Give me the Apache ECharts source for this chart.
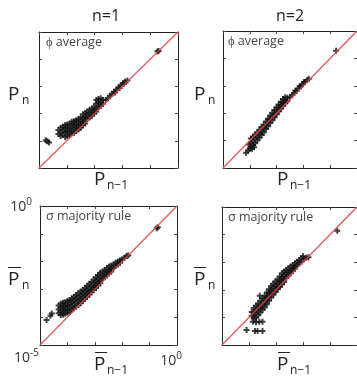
<!DOCTYPE html>
<html><head><meta charset="utf-8">
<script src="https://cdn.jsdelivr.net/npm/echarts@6/dist/echarts.min.js"></script>
<style>html,body{margin:0;padding:0;background:#fff}#c{width:357px;height:379px}</style>
</head><body><div id="c"></div>
<script>
// log10 values of P_{n-1} (x) and P_n (y)
const panelTitles = ['n=1', 'n=2'];
const panelLabels = ['ϕ average', 'ϕ average', 'σ majority rule', 'σ majority rule'];
const tickValues = [-5, -4, -3, -2, -1, 0];
const tickLabelText = { '-5': ['10', '-5'], '0': ['10', '0'] };

const phiN1 = [
 [-4.76,-3.98],[-4.64,-4.06],[-4.70,-4.02],
 [-4.30,-3.60],[-4.30,-3.75],[-4.22,-3.52],[-4.22,-3.68],[-4.22,-3.82],[-4.14,-3.48],[-4.14,-3.62],[-4.14,-3.78],
 [-4.06,-3.42],[-4.06,-3.56],[-4.06,-3.70],[-4.06,-3.86],[-3.98,-3.40],[-3.98,-3.54],[-3.98,-3.68],[-3.98,-3.82],
 [-3.90,-3.36],[-3.90,-3.50],[-3.90,-3.64],[-3.90,-3.78],[-3.82,-3.30],[-3.82,-3.44],[-3.82,-3.58],[-3.82,-3.72],
 [-3.74,-3.28],[-3.74,-3.42],[-3.74,-3.56],[-3.74,-3.70],[-3.66,-3.24],[-3.66,-3.38],[-3.66,-3.52],[-3.66,-3.64],
 [-3.58,-3.20],[-3.58,-3.34],[-3.58,-3.48],[-3.58,-3.58],[-3.50,-3.14],[-3.50,-3.28],[-3.50,-3.42],[-3.50,-3.52],
 [-3.42,-3.02],[-3.42,-3.16],[-3.42,-3.30],[-3.42,-3.42],[-3.34,-2.98],[-3.34,-3.12],[-3.34,-3.26],[-3.34,-3.36],
 [-3.26,-2.92],[-3.26,-3.06],[-3.26,-3.20],[-3.18,-2.86],[-3.18,-3.00],[-3.18,-3.14],[-3.10,-2.82],[-3.10,-2.96],[-3.10,-3.08],
 [-3.02,-2.74],[-3.02,-2.88],[-3.02,-3.00],[-2.94,-2.50],[-2.94,-2.64],[-2.94,-2.80],[-2.94,-2.92],
 [-2.86,-2.46],[-2.86,-2.60],[-2.86,-2.76],[-2.78,-2.44],[-2.78,-2.58],[-2.78,-2.72],[-2.70,-2.50],[-2.70,-2.64],
 [-2.60,-2.50],[-2.52,-2.44],[-2.44,-2.34],[-2.38,-2.28],[-2.30,-2.20],[-2.22,-2.12],[-2.14,-2.04],[-2.06,-1.96],
 [-1.98,-1.88],[-1.90,-1.82],[-1.82,-1.78],[-2.26,-2.22],[-2.10,-2.06],[-1.94,-1.90],
 [-0.74,-0.72],[-0.70,-0.70]
];
const phiN2 = [
 [-4.14,-4.44],[-4.06,-4.36],[-4.00,-4.30],[-4.04,-4.14],[-3.92,-4.30],[-3.84,-4.24],
 [-3.96,-4.22],[-3.96,-4.08],[-3.96,-3.92],[-3.88,-4.16],[-3.88,-4.02],[-3.88,-3.86],[-3.80,-4.10],[-3.80,-3.94],[-3.80,-3.78],
 [-3.72,-4.00],[-3.72,-3.86],[-3.72,-3.70],[-3.64,-3.90],[-3.64,-3.76],[-3.64,-3.60],[-3.56,-3.80],[-3.56,-3.66],[-3.56,-3.50],
 [-3.48,-3.70],[-3.48,-3.56],[-3.48,-3.42],[-3.40,-3.58],[-3.40,-3.44],[-3.40,-3.30],[-3.32,-3.48],[-3.32,-3.34],[-3.32,-3.20],
 [-3.24,-3.36],[-3.24,-3.22],[-3.24,-3.08],[-3.16,-3.26],[-3.16,-3.12],[-3.16,-2.98],[-3.08,-3.16],[-3.08,-3.02],[-3.08,-2.88],
 [-3.00,-3.04],[-3.00,-2.90],[-3.00,-2.78],[-2.92,-2.94],[-2.92,-2.80],[-2.92,-2.68],[-2.84,-2.84],[-2.84,-2.70],[-2.84,-2.58],
 [-2.76,-2.74],[-2.76,-2.60],[-2.76,-2.48],[-2.68,-2.64],[-2.68,-2.52],[-2.68,-2.42],[-2.60,-2.56],[-2.60,-2.44],
 [-2.50,-2.42],[-2.42,-2.34],[-2.34,-2.26],[-2.26,-2.18],[-2.18,-2.10],[-2.10,-2.02],[-2.02,-1.94],[-1.94,-1.86],
 [-1.86,-1.80],[-1.80,-1.74],[-2.30,-2.18],[-2.14,-2.02],[-1.98,-1.86],
 [-0.78,-0.72]
];
const sigmaN1 = [
 [-4.76,-4.10],[-4.57,-3.87],[-4.62,-3.95],
 [-4.32,-3.58],[-4.32,-3.72],[-4.32,-3.86],[-4.24,-3.52],[-4.24,-3.66],[-4.24,-3.80],[-4.24,-3.92],
 [-4.16,-3.48],[-4.16,-3.62],[-4.16,-3.76],[-4.16,-3.90],[-4.08,-3.46],[-4.08,-3.60],[-4.08,-3.74],[-4.08,-3.88],
 [-4.00,-3.42],[-4.00,-3.56],[-4.00,-3.70],[-4.00,-3.84],[-3.92,-3.38],[-3.92,-3.52],[-3.92,-3.66],[-3.92,-3.80],
 [-3.84,-3.32],[-3.84,-3.46],[-3.84,-3.60],[-3.84,-3.74],[-3.76,-3.26],[-3.76,-3.40],[-3.76,-3.54],[-3.76,-3.68],
 [-3.68,-3.20],[-3.68,-3.34],[-3.68,-3.48],[-3.68,-3.62],[-3.60,-3.14],[-3.60,-3.28],[-3.60,-3.42],[-3.60,-3.56],
 [-3.52,-3.08],[-3.52,-3.22],[-3.52,-3.36],[-3.52,-3.50],[-3.44,-3.02],[-3.44,-3.16],[-3.44,-3.30],[-3.44,-3.42],
 [-3.36,-2.94],[-3.36,-3.08],[-3.36,-3.22],[-3.36,-3.34],[-3.28,-2.88],[-3.28,-3.02],[-3.28,-3.16],[-3.28,-3.26],
 [-3.20,-2.80],[-3.20,-2.94],[-3.20,-3.08],[-3.20,-3.18],[-3.12,-2.74],[-3.12,-2.88],[-3.12,-3.02],[-3.12,-3.10],
 [-3.04,-2.64],[-3.04,-2.78],[-3.04,-2.92],[-3.04,-3.02],[-2.96,-2.56],[-2.96,-2.70],[-2.96,-2.84],[-2.96,-2.94],
 [-2.88,-2.48],[-2.88,-2.62],[-2.88,-2.76],[-2.88,-2.86],[-2.80,-2.40],[-2.80,-2.54],[-2.80,-2.68],[-2.80,-2.78],
 [-2.72,-2.36],[-2.72,-2.50],[-2.72,-2.62],[-2.64,-2.30],[-2.64,-2.44],[-2.64,-2.56],[-2.56,-2.24],[-2.56,-2.38],[-2.56,-2.50],
 [-2.48,-2.18],[-2.48,-2.32],[-2.48,-2.42],[-2.40,-2.14],[-2.40,-2.26],[-2.40,-2.36],[-2.32,-2.10],[-2.32,-2.22],
 [-2.24,-2.04],[-2.24,-2.16],[-2.16,-2.00],[-2.16,-2.10],[-2.08,-1.96],[-2.08,-2.04],
 [-2.00,-1.92],[-1.92,-1.86],[-1.84,-1.80],[-1.78,-1.78],
 [-0.74,-0.80],[-0.70,-0.76]
];
const sigmaN2 = [
 [-4.09,-4.46],[-3.78,-4.49],[-3.68,-4.49],[-3.50,-4.49],
 [-3.86,-4.16],[-3.74,-4.18],[-3.62,-4.16],[-3.50,-4.16],
 [-3.90,-3.80],[-3.90,-3.94],[-3.82,-3.66],[-3.82,-3.80],[-3.82,-3.94],[-3.82,-4.04],
 [-3.74,-3.58],[-3.74,-3.72],[-3.74,-3.86],[-3.74,-4.00],[-3.66,-3.50],[-3.66,-3.64],[-3.66,-3.78],[-3.66,-3.92],
 [-3.58,-3.40],[-3.58,-3.54],[-3.58,-3.68],[-3.58,-3.82],[-3.50,-3.30],[-3.50,-3.44],[-3.50,-3.58],[-3.50,-3.72],
 [-3.42,-3.22],[-3.42,-3.36],[-3.42,-3.50],[-3.42,-3.64],[-3.34,-3.10],[-3.34,-3.24],[-3.34,-3.38],[-3.34,-3.52],
 [-3.26,-2.98],[-3.26,-3.12],[-3.26,-3.26],[-3.26,-3.40],[-3.18,-2.86],[-3.18,-3.00],[-3.18,-3.14],[-3.18,-3.28],
 [-3.10,-2.78],[-3.10,-2.92],[-3.10,-3.06],[-3.10,-3.18],[-3.02,-2.70],[-3.02,-2.84],[-3.02,-2.98],[-3.02,-3.08],
 [-2.94,-2.62],[-2.94,-2.76],[-2.94,-2.90],[-2.94,-2.98],[-2.86,-2.52],[-2.86,-2.66],[-2.86,-2.80],[-2.86,-2.90],
 [-2.78,-2.40],[-2.78,-2.54],[-2.78,-2.68],[-2.78,-2.80],[-2.70,-2.34],[-2.70,-2.48],[-2.70,-2.62],[-2.70,-2.72],
 [-2.62,-2.28],[-2.62,-2.42],[-2.62,-2.56],[-2.54,-2.22],[-2.54,-2.36],[-2.54,-2.48],[-2.46,-2.16],[-2.46,-2.30],[-2.46,-2.40],
 [-2.38,-2.10],[-2.38,-2.24],[-2.38,-2.32],[-2.30,-2.04],[-2.30,-2.16],[-2.30,-2.24],[-2.22,-1.98],[-2.22,-2.10],
 [-2.14,-1.92],[-2.14,-2.04],[-2.06,-1.86],[-2.06,-1.98],[-2.00,-1.78],[-1.96,-1.88],[-1.88,-1.84],[-1.80,-1.82],
 [-3.60,-3.22],
 [-0.73,-0.86]
];
const panelData = [phiN1, phiN2, sigmaN1, sigmaN2];
const diagonal = [[-5, -5], [0, 0]];

const grids = [
  { left: 39, top: 32, width: 139, height: 136 },
  { left: 223, top: 31, width: 139, height: 137 },
  { left: 40, top: 206, width: 137, height: 139 },
  { left: 222, top: 207, width: 139, height: 138 }
];
const FONT = 'Open Sans';
const plusPath = 'path://M2,0H4V2H6V4H4V6H2V4H0V2H2Z';

const rich = {
  b: { fontSize: 14, fontFamily: FONT, color: '#333', verticalAlign: 'bottom' },
  s: { fontSize: 10, fontFamily: FONT, color: '#333', verticalAlign: 'bottom', padding: [0, 0, 7, 0] }
};
function fmtTick(v) {
  const t = tickLabelText[String(Math.round(v))];
  return t ? '{b|' + t[0] + '}{s|' + t[1] + '}' : '';
}

const xAxis = [], yAxis = [], series = [];
grids.forEach((g, i) => {
  const showLabels = (i === 2);
  const base = {
    type: 'value', min: -5, max: 0, interval: 1, gridIndex: i,
    axisLine: { show: true, onZero: false, lineStyle: { color: '#222', width: 1 } },
    axisTick: { show: true, inside: true, length: 3, lineStyle: { color: '#444' } },
    splitLine: { show: false }
  };
  xAxis.push(Object.assign({}, base, { position: 'bottom',
    axisLabel: { show: showLabels, margin: 6, rich: rich,
      formatter: v => (Math.round(v) === 0 ? fmtTick(v) + '{q|}' : '') }
  }));
  xAxis.push(Object.assign({}, base, { position: 'top', axisLabel: { show: false } }));
  yAxis.push(Object.assign({}, base, { position: 'left',
    axisLabel: { show: showLabels, margin: 8, formatter: v => (Math.round(v) === 0 ? fmtTick(v) : ''), rich: rich }
  }));
  yAxis.push(Object.assign({}, base, { position: 'right', axisLabel: { show: false } }));
  series.push({
    type: 'scatter', xAxisIndex: 2 * i, yAxisIndex: 2 * i, data: panelData[i],
    symbol: plusPath, symbolSize: 6, itemStyle: { color: '#111' }, silent: true, z: 2
  });
  series.push({
    type: 'line', xAxisIndex: 2 * i, yAxisIndex: 2 * i, data: diagonal, symbol: 'none',
    lineStyle: { color: '#e0464c', width: 1.3, opacity: 0.9 }, silent: true, z: 3
  });
});
xAxis[4].axisLabel.rich = Object.assign({}, rich, { q: { width: 12 } });

function txt(x, y, s, size, extra) {
  return { type: 'text', left: x, top: y, silent: true,
    style: Object.assign({ text: s, fontSize: size, fontFamily: FONT, fill: '#222' }, extra || {}) };
}
function bar(x1, x2, y) {
  return { type: 'line', silent: true, shape: { x1: x1, y1: y, x2: x2, y2: y }, style: { stroke: '#222', lineWidth: 1 } };
}
const graphic = [
  txt(92, 8, panelTitles[0], 16),
  txt(276, 8, panelTitles[1], 16),
  txt(46, 36, panelLabels[0], 12.5, { fill: '#444' }),
  txt(228, 35, panelLabels[1], 12.5, { fill: '#444' }),
  txt(46, 210, panelLabels[2], 12.5, { fill: '#444' }),
  txt(228, 211, panelLabels[3], 12.5, { fill: '#444' }),
  // lower-left tick label of the σ panel
  { type: 'text', left: 14, top: 348, silent: true,
    style: { text: fmtTick(-5), rich: rich, fill: '#333' } },
  // y labels
  txt(8, 85, 'P', 19), txt(22, 95, 'n', 12),
  txt(194, 85, 'P', 19), txt(208, 95, 'n', 12),
  txt(8, 270, 'P', 19), txt(22, 280, 'n', 12), bar(8, 21, 267.5),
  txt(194, 270, 'P', 19), txt(208, 280, 'n', 12), bar(194, 206, 267.5),
  // x labels
  txt(94, 170, 'P', 19), txt(107, 180, 'n−1', 12),
  txt(277, 170, 'P', 19), txt(290, 180, 'n−1', 12),
  txt(94, 355, 'P', 19), txt(107, 365, 'n−1', 12), bar(95, 107, 352.5),
  txt(277, 355, 'P', 19), txt(290, 365, 'n−1', 12), bar(278, 290, 352.5)
];

const chart = echarts.init(document.getElementById('c'), null, { renderer: 'canvas' });
chart.setOption({
  animation: false,
  grid: grids.map(g => Object.assign({ containLabel: false }, g)),
  xAxis: xAxis, yAxis: yAxis, series: series, graphic: graphic
});
</script></body></html>
